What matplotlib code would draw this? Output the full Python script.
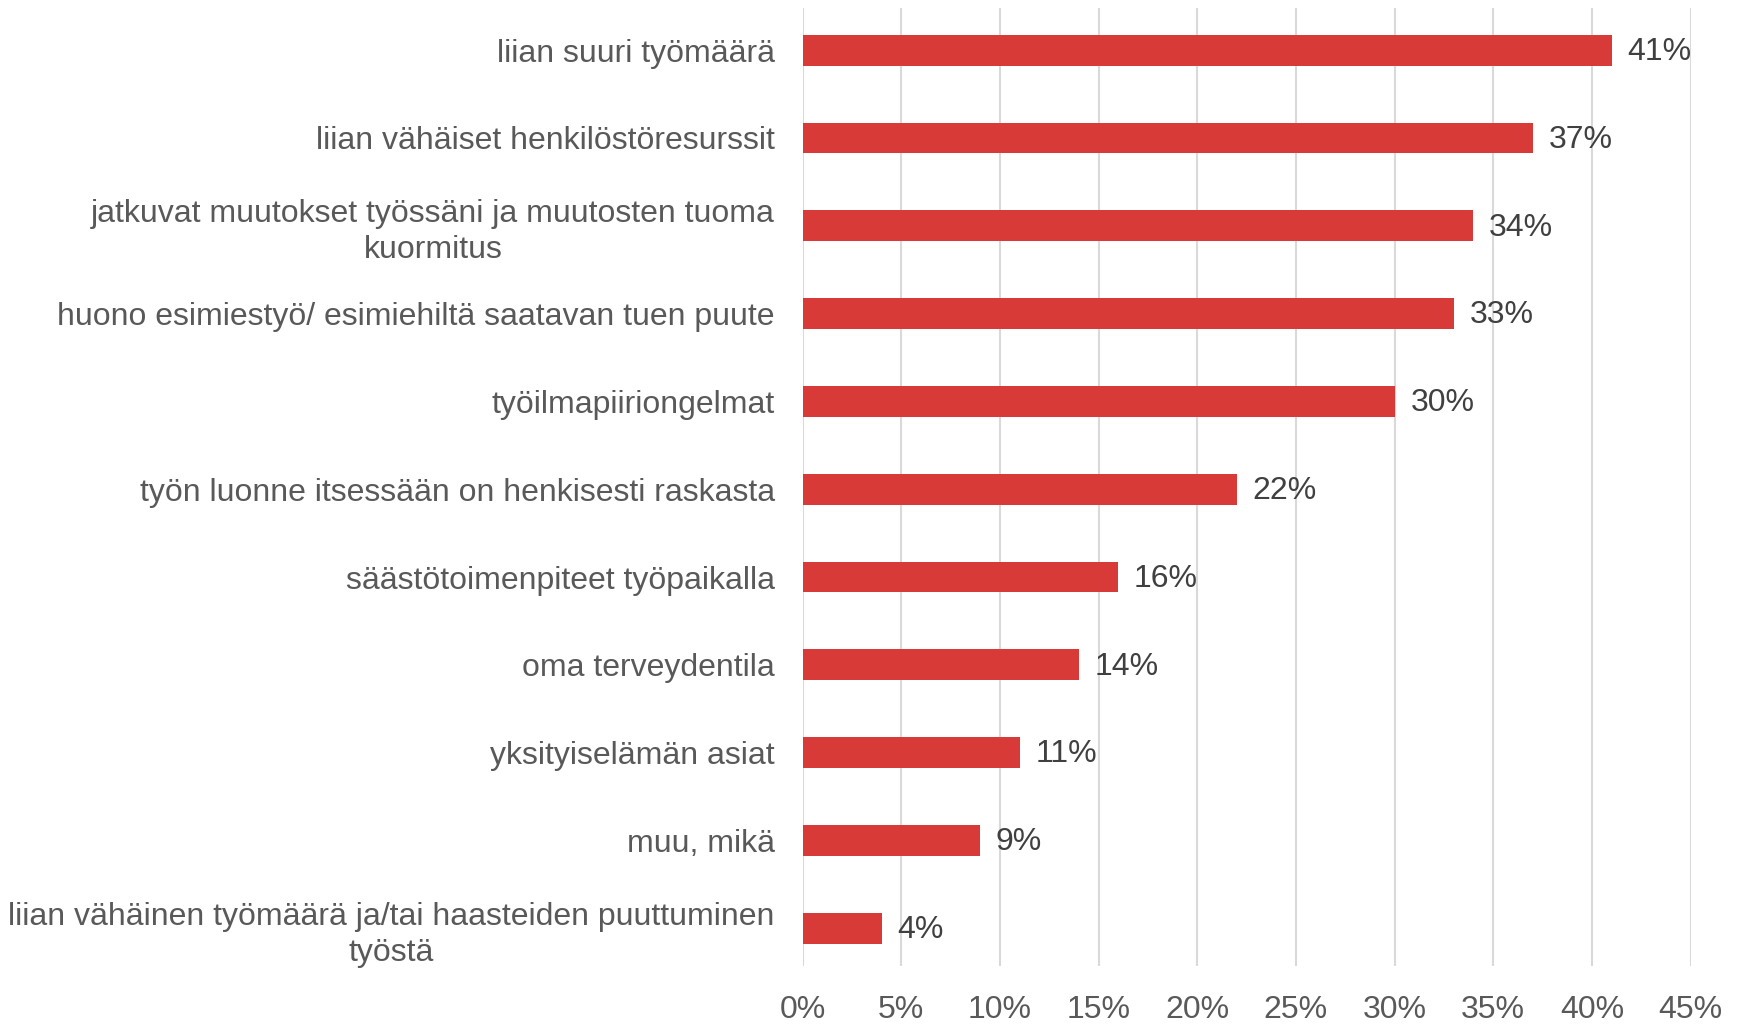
import matplotlib.pyplot as plt

plt.rcParams['font.family'] = ['Liberation Sans', 'DejaVu Sans']

# ===== DATA =====
categories = [
    "liian suuri työmäärä",
    "liian vähäiset henkilöstöresurssit",
    "jatkuvat muutokset työssäni ja muutosten tuoma\nkuormitus",
    "huono esimiestyö/ esimiehiltä saatavan tuen puute",
    "työilmapiiriongelmat",
    "työn luonne itsessään on henkisesti raskasta",
    "säästötoimenpiteet työpaikalla",
    "oma terveydentila",
    "yksityiselämän asiat",
    "muu, mikä",
    "liian vähäinen työmäärä ja/tai haasteiden puuttuminen\ntyöstä",
]
values = [41, 37, 34, 33, 30, 22, 16, 14, 11, 9, 4]
xticks = [0, 5, 10, 15, 20, 25, 30, 35, 40, 45]

bar_color = "#D83A37"
text_color = "#595959"

fig = plt.figure(figsize=(17.41, 10.24), dpi=100)
ax = fig.add_axes([0.461, 0.0566, 0.510, 0.9356])

ypos = list(range(len(categories)))[::-1]
ax.barh(ypos, values, height=0.35, color=bar_color, zorder=3)

for y, v in zip(ypos, values):
    ax.text(v + 0.8, y - 0.02, f"{v}%", va="center", ha="left",
            fontsize=23, color="#404040")

ax.set_yticks(ypos)
ax.set_yticklabels(categories, fontsize=23, color=text_color,
                   multialignment="center", linespacing=1.25)
ax.set_xticks(xticks)
ax.set_xticklabels([f"{t}%" for t in xticks], fontsize=23, color=text_color)
ax.set_xlim(0, 45)
ax.set_ylim(-0.43, 10.48)

ax.tick_params(axis="both", length=0)
ax.tick_params(axis="y", pad=20)
ax.tick_params(axis="x", pad=21)
ax.grid(axis="x", color="#D9D9D9", linewidth=1.5, zorder=0)
for s in ax.spines.values():
    s.set_visible(False)

fig.savefig("out.png", dpi=100)
